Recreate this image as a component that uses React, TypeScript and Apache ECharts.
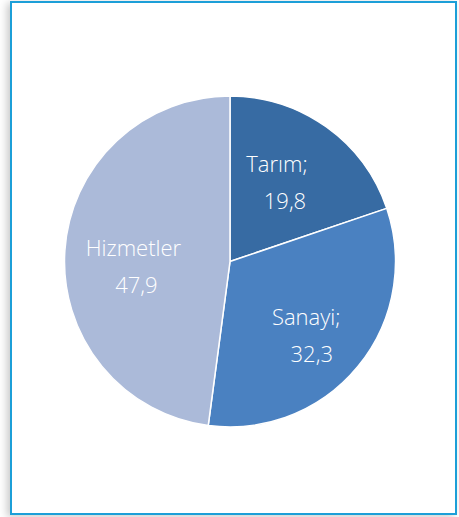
import React, { useEffect, useRef } from "react";
import * as echarts from "echarts";

const categories = ["Tarım;", "Sanayi;", "Hizmetler"];
const values = [19.8, 32.3, 47.9];
const colors = ["#376ba3", "#4a81c1", "#abbad9"];
// label fine-tuning (not data)
const labelOffsets: [number, number][] = [
  [-3, -10],
  [10, 19],
  [-11, 10],
];
const secondLineShift = [16, 11, 6];

export default function App() {
  const ref = useRef<HTMLDivElement>(null);
  useEffect(() => {
    document.body.style.margin = "0";
    if (!ref.current) return;
    const chart = echarts.init(ref.current, null, { renderer: "svg" });
    const textStyle = {
      color: "#ffffff",
      fontFamily: "Open Sans",
      fontWeight: 300,
      fontSize: 22,
      lineHeight: 37,
    };
    chart.setOption({
      animation: false,
      backgroundColor: "transparent",
      series: [
        {
          type: "pie",
          center: [218, 258.5],
          radius: [0, 165.5],
          startAngle: 90,
          clockwise: true,
          silent: true,
          itemStyle: { borderColor: "#ffffff", borderWidth: 1.5 },
          label: { position: "inside", ...textStyle },
          labelLine: { show: false },
          data: categories.map((name, i) => ({
            name,
            value: values[i],
            itemStyle: { color: colors[i] },
            label: {
              offset: labelOffsets[i],
              formatter: () =>
                `{a|${name}}\n{b|${values[i].toFixed(1).replace(".", ",")}}`,
              rich: {
                a: { ...textStyle },
                b: { ...textStyle, padding: [0, 0, 0, secondLineShift[i]] },
              },
            },
          })),
        },
      ],
    });
    return () => chart.dispose();
  }, []);
  return (
    <div
      style={{
        position: "relative",
        width: 459,
        height: 517,
        background: "#ffffff",
        overflow: "hidden",
      }}
    >
      <div
        style={{
          position: "absolute",
          left: 10,
          top: 1,
          width: 443,
          height: 510,
          border: "2px solid #1c9fd8",
          boxShadow: "-3px 2px 8px rgba(0,0,0,0.22)",
          background: "#ffffff",
        }}
      >
        <div ref={ref} style={{ width: 443, height: 510 }} />
      </div>
    </div>
  );
}
